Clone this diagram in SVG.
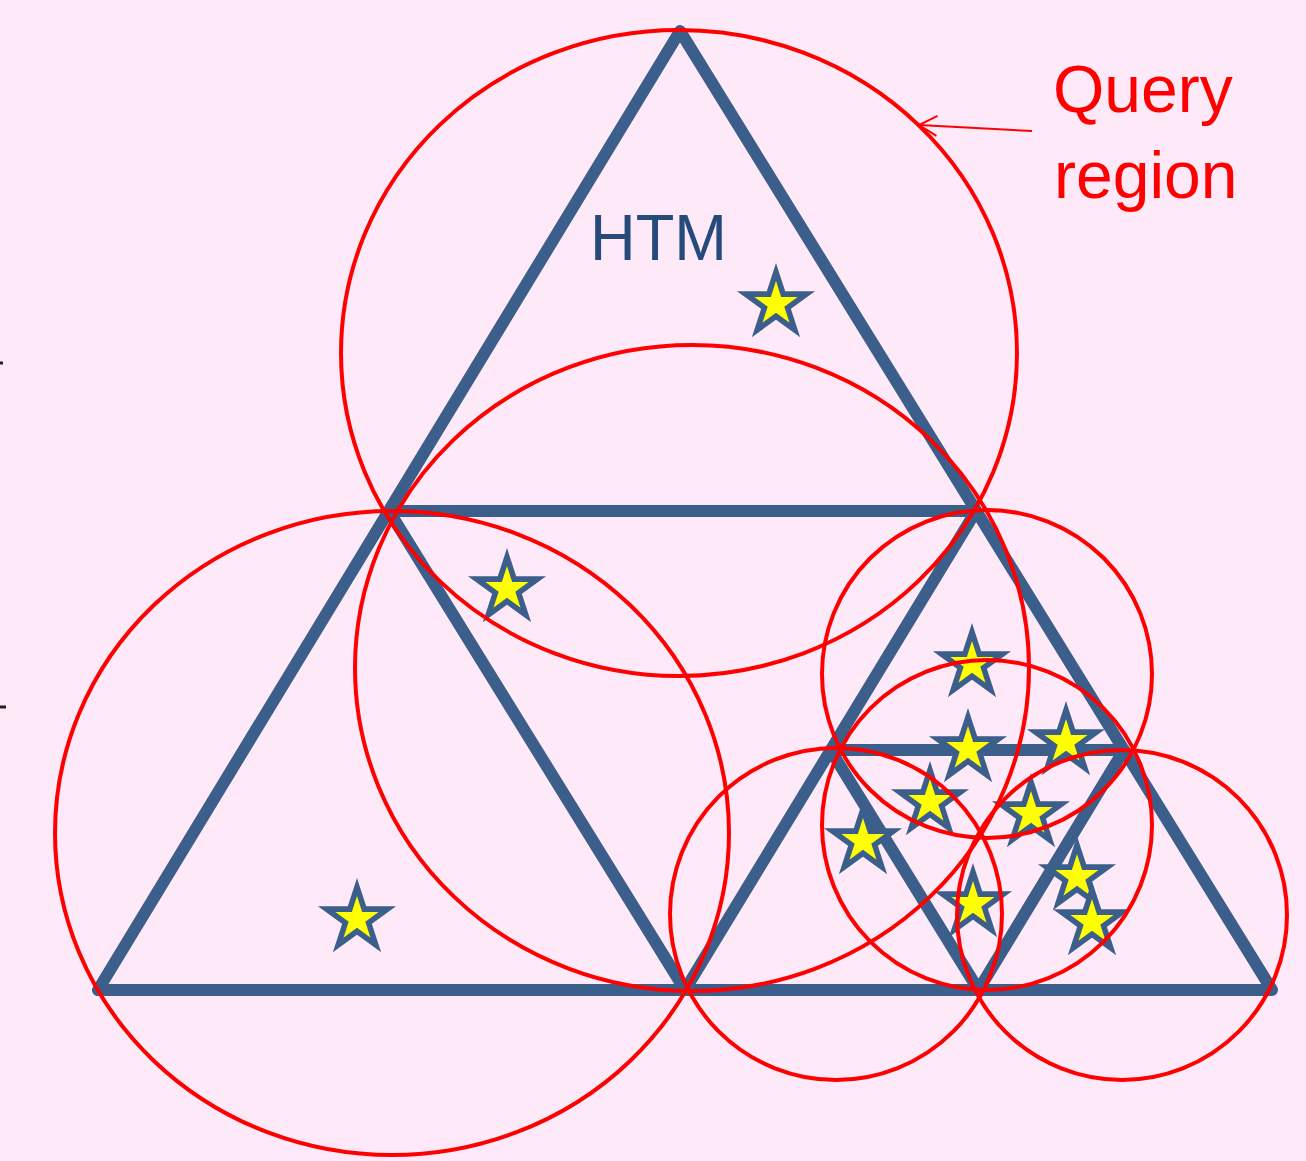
<svg xmlns="http://www.w3.org/2000/svg" xmlns:xlink="http://www.w3.org/1999/xlink" width="1306" height="1161" viewBox="0 0 1306 1161">
<style>
.tri{fill:none;stroke:#3B5E8B;stroke-width:12;stroke-linecap:round;stroke-linejoin:round}
.qc{fill:none;stroke:#FF0000;stroke-width:4}
.star{fill:#FFFF00;stroke:#3B5E8B;stroke-width:5.6;stroke-linejoin:miter}
.lbl{font-family:"Liberation Sans",Arial,sans-serif}
</style>
<defs>
<path id="starshape" d="M0,-32 L7.17,-9.87 L30.43,-9.89 L11.6,3.77 L18.81,25.89 L0,12.2 L-18.81,25.89 L-11.6,3.77 L-30.43,-9.89 L-7.17,-9.87 Z"/>
<marker id="openArrow" viewBox="0 0 24 24" refX="21" refY="12" markerWidth="24" markerHeight="24" markerUnits="userSpaceOnUse" orient="auto">
<path d="M3,2 L21,12 L3,22" fill="none" stroke="#FF0000" stroke-width="2"/>
</marker>
</defs>
<rect width="1306" height="1161" fill="#FEE9F9"/>
<g id="ticks" fill="#222">
<rect x="0" y="361.5" width="3" height="3"/>
<rect x="0" y="705.5" width="6" height="3"/>
</g>
<g id="htm-triangles" class="tri">
<path id="tri-outer" d="M680,31 L98,990 L1272,990 Z"/>
<path id="tri-mid" d="M389,511 L976,511 L685,990 Z"/>
<path id="tri-sub" d="M830.5,750 L1124,750 L978.5,990 Z"/>
</g>
<g id="stars">
<use xlink:href="#starshape" class="star" x="776" y="304"/>
<use xlink:href="#starshape" class="star" x="507" y="589"/>
<use xlink:href="#starshape" class="star" x="357" y="919"/>
<use xlink:href="#starshape" class="star" x="972" y="664"/>
<use xlink:href="#starshape" class="star" x="968" y="749"/>
<use xlink:href="#starshape" class="star" x="1066" y="742"/>
<use xlink:href="#starshape" class="star" x="930" y="802"/>
<use xlink:href="#starshape" class="star" x="1031" y="814"/>
<use xlink:href="#starshape" class="star" x="863" y="841"/>
<use xlink:href="#starshape" class="star" x="1077" y="877"/>
<use xlink:href="#starshape" class="star" x="973" y="904"/>
<use xlink:href="#starshape" class="star" x="1092" y="922"/>
</g>
<g id="query-circles" class="qc">
<ellipse id="circle-top" cx="679" cy="353" rx="338" ry="323"/>
<ellipse id="circle-mid" cx="692" cy="668" rx="337" ry="323"/>
<ellipse id="circle-left" cx="392" cy="833" rx="337" ry="322"/>
<ellipse id="circle-d" cx="987" cy="674" rx="165" ry="164"/>
<ellipse id="circle-e" cx="987" cy="825" rx="165" ry="165"/>
<ellipse id="circle-f" cx="836" cy="914" rx="166" ry="166"/>
<ellipse id="circle-g" cx="1122" cy="915" rx="165" ry="165"/>
</g>
<g id="connectors">
<line x1="1032" y1="131" x2="919" y2="125" stroke="#FF0000" stroke-width="2" marker-end="url(#openArrow)"/>
</g>
<g id="label-htm">
<text class="lbl" x="590" y="260" font-size="65" fill="#264B7A" textLength="137" lengthAdjust="spacingAndGlyphs">HTM</text>
</g>
<g id="label-query">
<text class="lbl" x="1053" y="112" font-size="66" fill="#FF0000">Query</text>
<text class="lbl" x="1054" y="198" font-size="66" fill="#FF0000">region</text>
</g>
</svg>
